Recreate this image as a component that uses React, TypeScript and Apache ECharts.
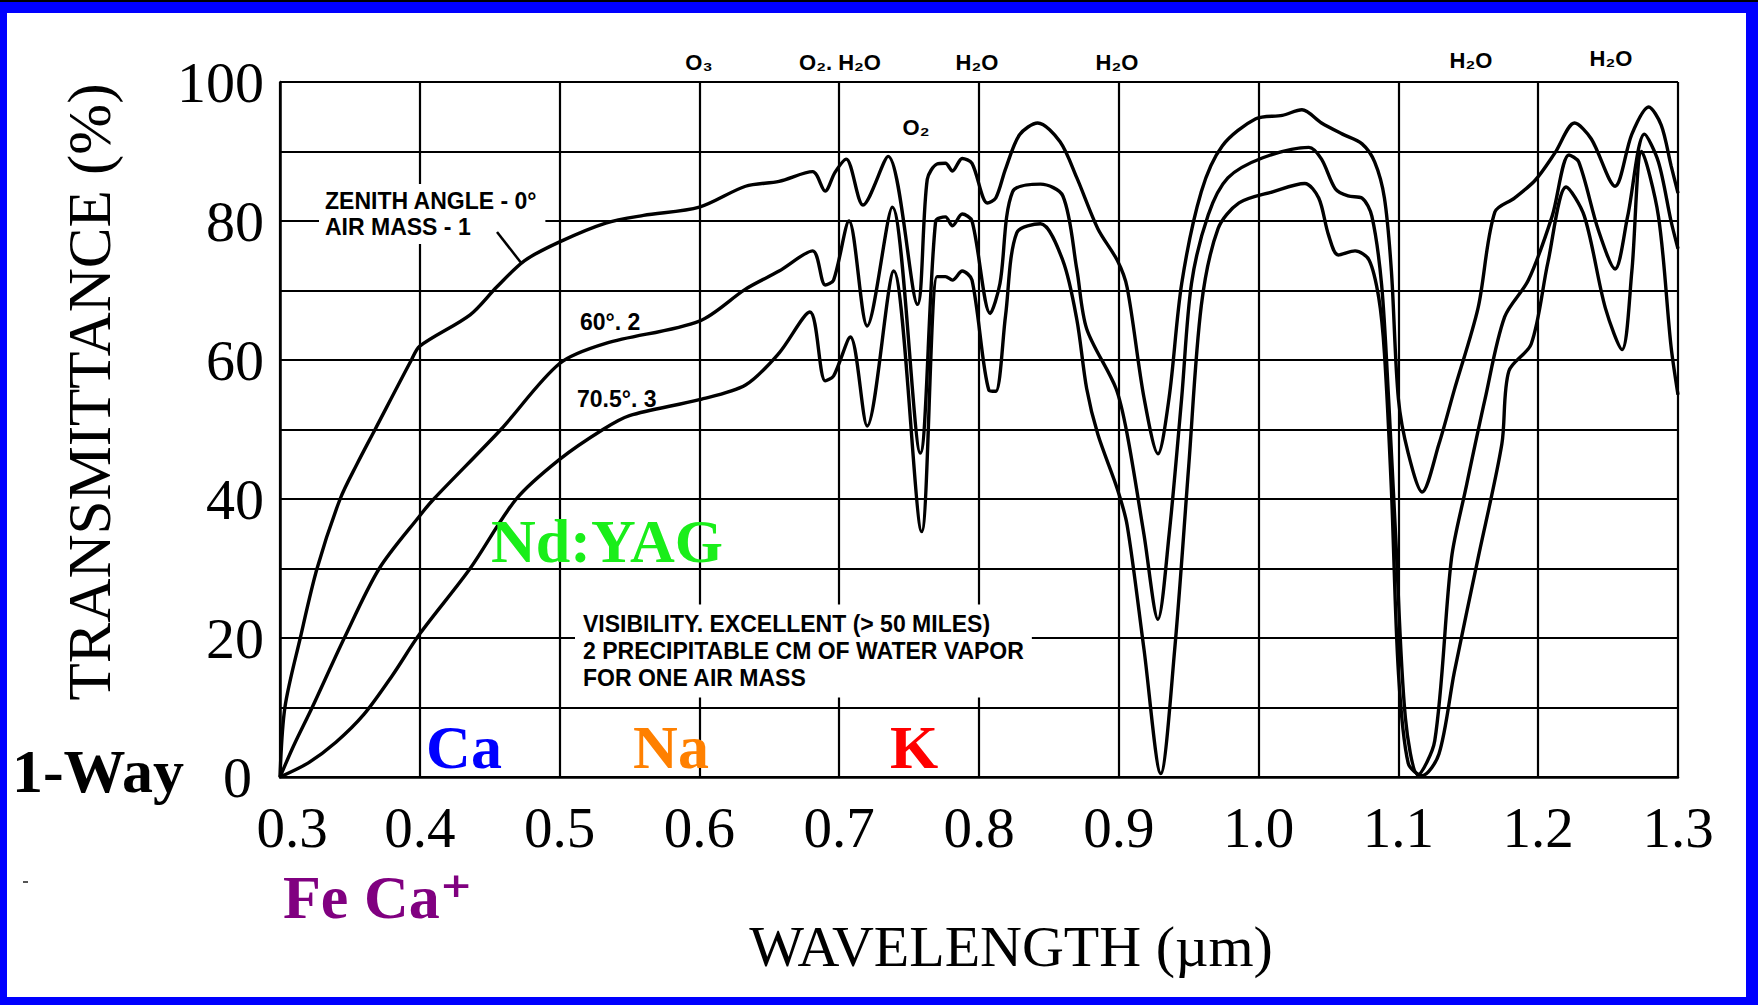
import React, { useEffect, useRef } from "react";
import * as echarts from "echarts";

// ---- Data ----
// Zenith angle 0°, air mass 1
const wlAM1 = [0.300, 0.3035, 0.3145, 0.3265, 0.343, 0.355, 0.368, 0.394, 0.400, 0.436, 0.455, 0.475, 0.500, 0.533, 0.560, 0.600, 0.633, 0.657, 0.681, 0.690, 0.697, 0.705, 0.717, 0.735, 0.756, 0.763, 0.770, 0.776, 0.781, 0.788, 0.795, 0.806, 0.812, 0.819, 0.829, 0.842, 0.858, 0.870, 0.885, 0.899, 0.906, 0.918, 0.928, 0.936, 0.945, 0.959, 0.974, 0.998, 1.017, 1.031, 1.045, 1.060, 1.074, 1.083, 1.090, 1.095, 1.100, 1.107, 1.117, 1.129, 1.140, 1.157, 1.169, 1.183, 1.198, 1.212, 1.226, 1.238, 1.255, 1.267, 1.279, 1.288, 1.295, 1.300];
const tAM1 = [0, 10, 20, 30, 40, 45, 50, 60, 62, 66.5, 70.5, 74.3, 77, 79.7, 80.8, 82, 85, 85.7, 87.1, 84.3, 87, 88.9, 82.3, 89.3, 68, 86, 88.2, 88.3, 87.2, 89, 88.3, 82.6, 83.3, 87.5, 92.4, 94.1, 91.4, 86.2, 78.9, 74.3, 70.4, 54.6, 46.5, 54.6, 71, 84.2, 90.8, 94.7, 95.2, 96, 94.1, 92.5, 91.1, 88.5, 83.3, 72.8, 54.4, 46.6, 41, 47.9, 55.7, 67.5, 81.3, 83.3, 85.9, 89.8, 94.1, 91.8, 85, 92.5, 96.4, 93.8, 88, 84];

// 60°, air mass 2
const wlAM2 = [0.300, 0.310, 0.323, 0.346, 0.371, 0.400, 0.410, 0.458, 0.500, 0.533, 0.600, 0.633, 0.657, 0.681, 0.690, 0.696, 0.707, 0.720, 0.738, 0.758, 0.769, 0.776, 0.781, 0.788, 0.795, 0.808, 0.815, 0.824, 0.844, 0.860, 0.870, 0.877, 0.898, 0.906, 0.918, 0.928, 0.936, 0.945, 0.952, 0.964, 0.978, 1.003, 1.036, 1.045, 1.055, 1.064, 1.074, 1.081, 1.088, 1.093, 1.098, 1.105, 1.114, 1.126, 1.138, 1.148, 1.162, 1.176, 1.193, 1.210, 1.222, 1.229, 1.243, 1.255, 1.264, 1.276, 1.286, 1.295, 1.300];
const tAM2 = [0, 4.6, 10, 20, 30, 37.6, 40, 50, 59.5, 62.4, 65.6, 70.2, 72.8, 75.7, 70.8, 71.5, 80, 64.9, 82, 46.6, 80, 80.6, 79.3, 81, 80, 66.7, 71, 84.2, 85.3, 83.6, 73, 64.5, 55.9, 49.3, 34.9, 22.7, 34.9, 54.6, 71, 80.9, 86.2, 89.1, 90.6, 88.9, 84.6, 83.6, 83.3, 80.7, 70.8, 54.4, 34.8, 8.5, 0.3, 5.2, 31.5, 41.3, 54.4, 66.2, 71.5, 80.7, 89.5, 88.5, 78.7, 73.1, 80.7, 92.5, 88.5, 80, 76];

// 70.5°, air mass 3
const wlAM3 = [0.300, 0.320, 0.340, 0.360, 0.380, 0.400, 0.436, 0.469, 0.500, 0.531, 0.550, 0.600, 0.633, 0.657, 0.679, 0.690, 0.696, 0.708, 0.720, 0.739, 0.759, 0.770, 0.776, 0.781, 0.788, 0.795, 0.807, 0.812, 0.819, 0.827, 0.844, 0.860, 0.870, 0.877, 0.885, 0.899, 0.906, 0.918, 0.930, 0.940, 0.950, 0.959, 0.971, 0.986, 1.010, 1.033, 1.043, 1.050, 1.057, 1.069, 1.079, 1.086, 1.090, 1.095, 1.100, 1.107, 1.117, 1.129, 1.140, 1.157, 1.174, 1.179, 1.195, 1.207, 1.220, 1.233, 1.248, 1.260, 1.267, 1.274, 1.286, 1.295, 1.300];
const tAM3 = [0, 2, 5, 9, 14.5, 20.6, 30, 40, 45.7, 50, 52, 54.3, 56.4, 61, 66.9, 57, 57.7, 63.3, 50.5, 72.8, 35.3, 72, 72, 71.5, 72.8, 71.5, 55.7, 55.5, 66.4, 78.3, 79.6, 74.3, 65.8, 55.9, 49.3, 41.4, 36.2, 18.4, 0.5, 18.4, 44.7, 67.8, 78.9, 82.6, 84.2, 85.4, 83.3, 78, 75.1, 75.7, 74.4, 68.9, 61, 41.3, 15.1, 2, 0.2, 3.3, 15.1, 31.5, 47.9, 58.4, 62.3, 74.1, 84.9, 80.7, 67.5, 61.5, 72.8, 90, 80.7, 62, 55];

const yLabelStep = 20;
const xAxisTitle = "WAVELENGTH (µm)";
const yAxisTitle = "TRANSMITTANCE (%)";
const absorberLabels = ["O₃", "O₂. H₂O", "H₂O", "H₂O", "H₂O", "H₂O"];
const curveLabels = ["ZENITH ANGLE - 0°\nAIR MASS - 1", "60°. 2", "70.5°. 3"];
const noteText = "VISIBILITY. EXCELLENT (> 50 MILES)\n2 PRECIPITABLE CM OF WATER VAPOR\nFOR ONE AIR MASS";

const SERIF = "'Liberation Serif', 'Times New Roman', 'DejaVu Serif', serif";
const SANS = "'Liberation Sans', Arial, 'DejaVu Sans', sans-serif";

const pairs = (xs: number[], ys: number[]) => xs.map((x, i) => [x, ys[i]]);

function txt(x: number, y: number, text: string, o: any = {}) {
  const align = o.align || "center";
  const valign = o.valign || "middle";
  const style: any = {
    text,
    fill: o.fill || "#000",
    fontSize: o.size || 22,
    fontFamily: o.family || SANS,
    fontWeight: o.weight || "bold",
    align,
    textAlign: align,
    verticalAlign: valign,
    textVerticalAlign: valign,
  };
  if (o.lineHeight) style.lineHeight = o.lineHeight;
  if (o.bg) {
    style.backgroundColor = o.bg;
    style.padding = o.padding || [4, 6, 4, 6];
  }
  const el: any = { type: "text", x, y, z: o.z || 100, style };
  if (o.rotation) el.rotation = o.rotation;
  return el;
}

export default function App() {
  const ref = useRef<HTMLDivElement>(null);

  useEffect(() => {
    document.body.style.margin = "0";
    const chart = echarts.init(ref.current!, null, { renderer: "svg" });

    const lineSeries = (name: string, xs: number[], ys: number[]) => ({
      name,
      type: "line",
      data: pairs(xs, ys),
      symbol: "none",
      smooth: 0.3,
      clip: true,
      z: 3,
      lineStyle: { color: "#000", width: 3.4 },
      itemStyle: { color: "#000" },
    });

    const blue = "#0000ff";
    const option: any = {
      animation: false,
      backgroundColor: "#ffffff",
      grid: { left: 280, top: 82, right: 80, bottom: 228, containLabel: false },
      xAxis: {
        type: "value",
        min: 0.3,
        max: 1.3,
        interval: 0.1,
        axisLine: { show: true, onZero: false, lineStyle: { color: "#000", width: 2.5 } },
        axisTick: { show: false },
        axisLabel: {
          formatter: (v: number) => {
            const s = v.toFixed(1);
            return Math.abs(v - 0.3) < 1e-9 ? `{first|${s}}` : s;
          },
          fontFamily: SERIF,
          fontSize: 57,
          lineHeight: 44,
          color: "#000",
          margin: 28,
          rich: {
            first: { fontFamily: SERIF, fontSize: 57, lineHeight: 44, color: "#000", padding: [0, 0, 0, 24] },
          },
        },
        splitLine: { show: true, lineStyle: { color: "#000", width: 2.2 } },
      },
      yAxis: {
        type: "value",
        min: 0,
        max: 100,
        interval: 10,
        axisLine: { show: true, onZero: false, lineStyle: { color: "#000", width: 2.5 } },
        axisTick: { show: false },
        axisLabel: {
          formatter: (v: number) => {
            const r = Math.round(v);
            if (r % yLabelStep !== 0) return "";
            return r === 0 ? "{zero|0}" : String(r);
          },
          fontFamily: SERIF,
          fontSize: 58,
          lineHeight: 40,
          color: "#000",
          margin: 16,
          rich: {
            zero: { fontFamily: SERIF, fontSize: 58, lineHeight: 40, color: "#000", padding: [0, 12, 0, 0] },
          },
        },
        splitLine: { show: true, lineStyle: { color: "#000", width: 2.2 } },
      },
      series: [
        lineSeries("Air mass 1", wlAM1, tAM1),
        lineSeries("Air mass 2", wlAM2, tAM2),
        lineSeries("Air mass 3", wlAM3, tAM3),
      ],
      graphic: {
        elements: [
          // axis titles
          txt(89, 392, yAxisTitle, { family: SERIF, weight: "normal", size: 61, rotation: Math.PI / 2 }),
          txt(1011, 946, xAxisTitle, { family: SERIF, weight: "normal", size: 58 }),
          // absorber labels above plot
          txt(699, 62, absorberLabels[0], { size: 22 }),
          txt(840, 62, absorberLabels[1], { size: 22 }),
          txt(977, 62, absorberLabels[2], { size: 22 }),
          txt(1117, 62, absorberLabels[3], { size: 22 }),
          txt(1471, 60, absorberLabels[4], { size: 22 }),
          txt(1611, 58, absorberLabels[5], { size: 22 }),
          txt(916, 127, "O₂", { size: 22 }),
          // curve labels
          txt(319, 214, curveLabels[0], { align: "left", size: 23, lineHeight: 26, bg: "#ffffff", padding: [4, 8, 4, 6] }),
          {
            type: "line",
            z: 100,
            shape: { x1: 497, y1: 232, x2: 522, y2: 264 },
            style: { stroke: "#000", lineWidth: 2.5 },
          },
          txt(580, 322, curveLabels[1], { align: "left", size: 23 }),
          txt(577, 399, curveLabels[2], { align: "left", size: 23 }),
          txt(575, 651, noteText, { align: "left", size: 23, lineHeight: 27, bg: "#ffffff", padding: [6, 8, 6, 8] }),
          // colored element labels
          txt(98, 771, "1-Way", { family: SERIF, size: 62, fill: "#000" }),
          txt(464, 747, "Ca", { family: SERIF, size: 62, fill: "#0000ff" }),
          txt(671, 747, "Na", { family: SERIF, size: 62, fill: "#ff8000" }),
          txt(914, 747, "K", { family: SERIF, size: 62, fill: "#ff0000" }),
          txt(607, 541, "Nd:YAG", { family: SERIF, size: 62, fill: "#1aee1a" }),
          txt(283, 897, "Fe Ca⁺", { family: SERIF, size: 62, fill: "#800080", align: "left" }),
          // stray mark
          { type: "rect", z: 100, shape: { x: 23, y: 881, width: 5, height: 2 }, style: { fill: "#555" } },
          // blue frame
          { type: "rect", z: 200, shape: { x: 0, y: 0, width: 1758, height: 13 }, style: { fill: blue } },
          { type: "rect", z: 201, shape: { x: 0, y: 0, width: 1758, height: 2 }, style: { fill: "#000" } },
          { type: "rect", z: 200, shape: { x: 0, y: 0, width: 7, height: 1005 }, style: { fill: blue } },
          { type: "rect", z: 200, shape: { x: 1746, y: 0, width: 12, height: 1005 }, style: { fill: blue } },
          { type: "rect", z: 200, shape: { x: 0, y: 997, width: 1758, height: 8 }, style: { fill: blue } },
        ],
      },
    };

    chart.setOption(option);
    return () => chart.dispose();
  }, []);

  return <div ref={ref} style={{ width: 1758, height: 1005 }} />;
}
